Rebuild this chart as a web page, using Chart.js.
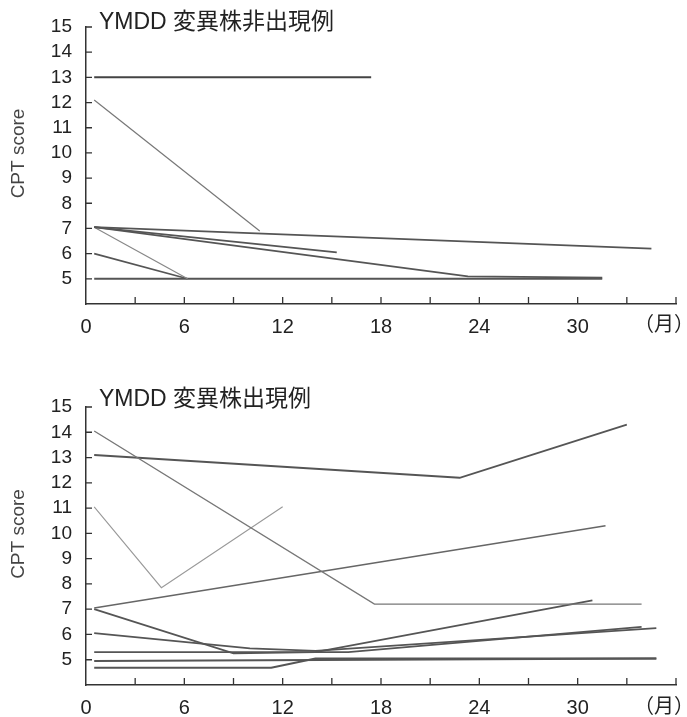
<!DOCTYPE html>
<html>
<head>
<meta charset="utf-8">
<script src="https://cdn.jsdelivr.net/npm/chart.js@4"></script>
<style>
  body { margin: 0; background: #fff; }
  #wrap { position: relative; width: 687px; height: 717px; }
  canvas { position: absolute; left: 0; }
</style>
</head>
<body>
<div id="wrap">
  <canvas id="topChart" width="687" height="350" style="top:0"></canvas>
  <canvas id="bottomChart" width="687" height="357" style="top:360px"></canvas>
</div>
<script>
// Titles
const topTitle = "YMDD 変異株非出現例";
const bottomTitle = "YMDD 変異株出現例";
const yTitle = "CPT score";
const monthUnit = "（月）";

// Tick labels
const xTickLabels = [0, 6, 12, 18, 24, 30];
const yTickLabels = [5, 6, 7, 8, 9, 10, 11, 12, 13, 14, 15];

// Non-emergence cases: [month, CPT score]
const non1 = [[0.5, 13], [17.4, 13]];
const non2 = [[0.5, 12.1], [10.6, 6.9]];
const non3 = [[0.5, 7.05], [34.5, 6.2]];
const non4 = [[0.5, 7.05], [15.3, 6.05]];
const non5 = [[0.5, 7.05], [23.3, 5.1], [31.5, 5.05]];
const non6 = [[0.5, 7.05], [6.2, 5.0]];
const non7 = [[0.5, 6.0], [6.2, 5.0]];
const non8 = [[0.5, 5.0], [31.5, 5.0]];

// Emergence cases
const em1 = [[0.5, 14.05], [17.6, 7.2], [33.9, 7.2]];
const em2 = [[0.5, 13.1], [22.8, 12.2], [33.0, 14.3]];
const em3 = [[0.5, 11.05], [4.6, 7.85], [12.0, 11.05]];
const em4 = [[0.5, 7.05], [31.7, 10.3]];
const em5 = [[0.5, 7.0], [9.0, 5.25], [14.0, 5.3], [30.9, 7.35]];
const em6 = [[0.5, 6.05], [10.0, 5.45], [14.0, 5.35], [34.8, 6.25]];
const em7 = [[0.5, 5.3], [16.0, 5.3], [33.9, 6.3]];
const em8 = [[0.5, 4.95], [34.8, 5.05]];
const em9 = [[0.5, 4.68], [11.3, 4.68], [14.0, 5.05], [34.8, 5.05]];

const FONT = "'Liberation Sans', Arial, 'Noto Sans CJK JP', sans-serif";

function ds(points, color, width) {
    return {
        data: points.map(p => ({ x: p[0], y: p[1] })),
        borderColor: color,
        borderWidth: width || 1.6,
        pointRadius: 0,
        fill: false,
        tension: 0
    };
}

// inner tick marks, titles and unit label
function decorations(title, titleY, unitY) {
    return {
        id: "decorations",
        afterDraw(chart) {
            const ctx = chart.ctx;
            const xs = chart.scales.x, ys = chart.scales.y;
            const a = chart.chartArea;
            ctx.save();
            ctx.strokeStyle = "#333";
            ctx.lineWidth = 1.3;
            ctx.beginPath();
            for (let m = 3; m <= 36; m += 3) {
                const px = xs.getPixelForValue(m);
                ctx.moveTo(px, a.bottom);
                ctx.lineTo(px, a.bottom - 7);
            }
            yTickLabels.forEach(v => {
                const py = ys.getPixelForValue(v);
                ctx.moveTo(a.left, py);
                ctx.lineTo(a.left + 6, py);
            });
            ctx.stroke();

            ctx.fillStyle = "#222";
            ctx.font = "23px " + FONT;
            ctx.textBaseline = "middle";
            ctx.textAlign = "left";
            ctx.fillText(title, 99, titleY);

            ctx.font = "20px " + FONT;
            ctx.textAlign = "center";
            ctx.fillText(monthUnit, 664, unitY);

            // rotated y title
            ctx.translate(19, (a.top + a.bottom) / 2 - 12);
            ctx.rotate(-Math.PI / 2);
            ctx.fillStyle = "#444";
            ctx.font = "19px " + FONT;
            ctx.fillText(yTitle, 0, 0);
            ctx.restore();
        }
    };
}

function makeChart(id, datasets, padTop, xHeight, title, titleY, unitY) {
    return new Chart(document.getElementById(id), {
        type: "line",
        data: { datasets: datasets },
        options: {
            responsive: false,
            animation: false,
            devicePixelRatio: 1,
            layout: { padding: { left: 0, right: 6, top: padTop, bottom: 0 } },
            plugins: { legend: { display: false }, tooltip: { enabled: false } },
            scales: {
                x: {
                    type: "linear",
                    min: 0,
                    max: 36,
                    grid: { display: false, drawTicks: false },
                    border: { display: true, color: "#333", width: 1.5 },
                    ticks: {
                        stepSize: 3,
                        autoSkip: false,
                        maxRotation: 0,
                        padding: 11,
                        color: "#222",
                        font: { family: FONT, size: 20 },
                        callback: v => xTickLabels.includes(v) ? String(v) : ""
                    },
                    afterFit: s => { s.height = xHeight; }
                },
                y: {
                    min: 4,
                    max: 15,
                    grid: { display: false, drawTicks: false },
                    border: { display: true, color: "#333", width: 1.5 },
                    ticks: {
                        stepSize: 1,
                        autoSkip: false,
                        padding: 14,
                        color: "#222",
                        font: { family: FONT, size: 19 },
                        callback: v => yTickLabels.includes(v) ? String(v) : ""
                    },
                    afterFit: s => { s.width = 86; }
                }
            }
        },
        plugins: [decorations(title, titleY, unitY)]
    });
}

makeChart("topChart", [
    ds(non1, "#444", 2),
    ds(non2, "#777", 1.2),
    ds(non3, "#555", 1.8),
    ds(non4, "#555", 1.8),
    ds(non5, "#555", 1.8),
    ds(non6, "#888", 1.2),
    ds(non7, "#555", 1.6),
    ds(non8, "#555", 2)
], 27, 46, topTitle, 23, 325);

makeChart("bottomChart", [
    ds(em1, "#777", 1.4),
    ds(em2, "#555", 1.8),
    ds(em3, "#999", 1.1),
    ds(em4, "#666", 1.6),
    ds(em5, "#555", 1.8),
    ds(em6, "#555", 1.8),
    ds(em7, "#555", 1.8),
    ds(em8, "#555", 2),
    ds(em9, "#555", 2)
], 47, 32, bottomTitle, 40, 347);
</script>
</body>
</html>
